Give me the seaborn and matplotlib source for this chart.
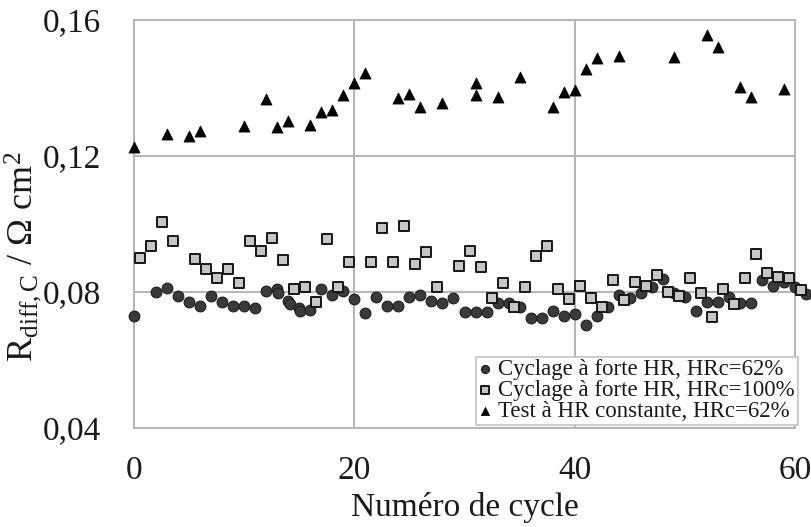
import matplotlib
matplotlib.use("Agg")
import matplotlib.pyplot as plt
import seaborn as sns
import pandas as pd

# Cycling at high RH, HRc = 62 %
cycle_62 = [0, 2, 3, 4, 5, 6, 7, 8, 9, 10, 11, 12, 13, 13.1, 14, 14.2, 15, 15.1,
            16, 17, 18, 19, 20, 21, 22, 23, 24, 25, 26, 27, 28, 29, 30, 31, 32,
            33, 34, 35, 36, 37, 38, 39, 40, 41, 42, 43, 44, 45, 46, 47, 48, 49,
            50, 51, 52, 53, 54, 55, 56, 57, 58, 59, 60, 61]
rdiff_62 = [0.0728, 0.0800, 0.0811, 0.0787, 0.0770, 0.0760, 0.0788, 0.0770,
            0.0760, 0.0760, 0.0752, 0.0804, 0.0809, 0.0798, 0.0773, 0.0765,
            0.0752, 0.0743, 0.0746, 0.0809, 0.0791, 0.0804, 0.0779, 0.0738,
            0.0785, 0.0760, 0.0760, 0.0785, 0.0791, 0.0773, 0.0768, 0.0781,
            0.0741, 0.0742, 0.0742, 0.0768, 0.0768, 0.0755, 0.0725, 0.0725,
            0.0745, 0.0730, 0.0735, 0.0703, 0.0730, 0.0757, 0.0791, 0.0783,
            0.0796, 0.0815, 0.0838, 0.0798, 0.0785, 0.0745, 0.0772, 0.0772,
            0.0784, 0.0769, 0.0769, 0.0834, 0.0819, 0.0829, 0.0816, 0.0795]

# Cycling at high RH, HRc = 100 %
cycle_100 = [0.5, 1.5, 2.5, 3.5, 5.5, 6.5, 7.5, 8.5, 9.5, 10.5, 11.5, 12.5,
             13.5, 14.5, 15.5, 16.5, 17.5, 18.5, 19.5, 21.5, 22.5, 23.5, 24.5,
             25.5, 26.5, 27.5, 29.5, 30.5, 31.5, 32.5, 33.5, 34.5, 35.5, 36.5,
             37.5, 38.5, 39.5, 40.5, 41.5, 42.5, 43.5, 44.5, 45.5, 46.5, 47.5,
             48.5, 49.5, 50.5, 51.5, 52.5, 53.5, 54.5, 55.5, 56.5, 57.5, 58.5,
             59.5, 60.5]
rdiff_100 = [0.0901, 0.0936, 0.1007, 0.0951, 0.0896, 0.0868, 0.0840, 0.0868,
             0.0825, 0.0951, 0.0922, 0.0958, 0.0893, 0.0810, 0.0814, 0.0770,
             0.0955, 0.0814, 0.0888, 0.0888, 0.0989, 0.0888, 0.0994, 0.0883,
             0.0917, 0.0816, 0.0877, 0.0922, 0.0875, 0.0783, 0.0825, 0.0757,
             0.0816, 0.0905, 0.0936, 0.0810, 0.0778, 0.0818, 0.0782, 0.0757,
             0.0835, 0.0777, 0.0830, 0.0817, 0.0850, 0.0801, 0.0789, 0.0842,
             0.0796, 0.0727, 0.0808, 0.0764, 0.0842, 0.0911, 0.0857, 0.0845,
             0.0840, 0.0807]

# Constant RH test, HRc = 62 %
cycle_const = [0, 3, 5, 6, 10, 12, 13, 14, 16, 17, 18, 19, 20, 21, 24, 25, 26,
               28, 31, 31, 33, 35, 38, 39, 40, 41, 42, 44, 49, 52, 53, 55, 56, 59]
rdiff_const = [0.1227, 0.1265, 0.1260, 0.1274, 0.1289, 0.1367, 0.1284, 0.1304,
               0.1291, 0.1330, 0.1334, 0.1379, 0.1416, 0.1443, 0.1372, 0.1382,
               0.1343, 0.1355, 0.1416, 0.1378, 0.1373, 0.1431, 0.1345, 0.1387,
               0.1394, 0.1456, 0.1489, 0.1494, 0.1492, 0.1555, 0.1520, 0.1403,
               0.1373, 0.1396]

labels = ["Cyclage à forte HR, HRc=62%",
          "Cyclage à forte HR, HRc=100%",
          "Test à HR constante, HRc=62%"]

x_ticks = [0, 20, 40, 60]
x_tick_labels = ["0", "20", "40", "60"]
y_ticks = [0.04, 0.08, 0.12, 0.16]
y_tick_labels = ["0,04", "0,08", "0,12", "0,16"]

df_62 = pd.DataFrame({"cycle": cycle_62, "rdiff": rdiff_62})
df_100 = pd.DataFrame({"cycle": cycle_100, "rdiff": rdiff_100})
df_const = pd.DataFrame({"cycle": cycle_const, "rdiff": rdiff_const})

sns.set_style("white")
plt.rcParams["font.family"] = ["Liberation Serif", "DejaVu Serif"]
plt.rcParams["mathtext.fontset"] = "custom"
plt.rcParams["mathtext.rm"] = "Liberation Serif"
plt.rcParams["mathtext.it"] = "Liberation Serif:italic"

fig = plt.figure(figsize=(8.11, 5.27), dpi=100)
ax = fig.add_axes([134 / 811, 1 - 428 / 527, 661 / 811, 408 / 527])

grid_col = "#b4b4b4"

sns.scatterplot(data=df_62, x="cycle", y="rdiff", ax=ax, marker="o", s=60,
                color="#3a3a3a", edgecolor="#1e1e1e", linewidth=0.8,
                label=labels[0], clip_on=False, zorder=3)
sns.scatterplot(data=df_100, x="cycle", y="rdiff", ax=ax, marker="s", s=50,
                color="#c6c6c6", edgecolor="#161616", linewidth=1.4,
                label=labels[1], clip_on=False, zorder=4)
sns.scatterplot(data=df_const, x="cycle", y="rdiff", ax=ax, marker="^", s=64,
                color="black", edgecolor="black", linewidth=0.5,
                label=labels[2], clip_on=False, zorder=5)

ax.set_xlim(0, 60)
ax.set_ylim(0.04, 0.16)
ax.set_xticks(x_ticks)
ax.set_xticklabels(x_tick_labels)
ax.set_yticks(y_ticks)
ax.set_yticklabels(y_tick_labels)
ax.tick_params(axis="both", length=0, labelsize=24, colors="#1a1a1a")
ax.tick_params(axis="y", pad=24)
ax.tick_params(axis="x", pad=20)

ax.grid(True, color=grid_col, linewidth=1.4)
ax.set_axisbelow(True)
for sp in ax.spines.values():
    sp.set_visible(True)
    sp.set_color(grid_col)
    sp.set_linewidth(1.4)

ax.set_xlabel("Numéro de cycle", fontsize=24, color="#1a1a1a", labelpad=4)
ax.set_ylabel("")
fig.text(23 / 811, 1 - 257 / 527,
         r"R$_{\mathrm{diff,C}}$ / Ω cm$^{\mathrm{2}}$",
         rotation=90, ha="center", va="center", fontsize=26, color="#1a1a1a")

leg = ax.legend(loc="lower right", bbox_to_anchor=(1.004, 0.007),
                borderaxespad=0, fontsize=16.5, frameon=True, fancybox=False,
                edgecolor="#c4c4c4", framealpha=1, markerscale=0.75,
                handlelength=0.5, handletextpad=0.35, labelspacing=0.0,
                borderpad=0.12)
leg.get_frame().set_linewidth(1.2)
for t in leg.get_texts():
    t.set_color("#1a1a1a")

fig.savefig("out.png", dpi=100)
